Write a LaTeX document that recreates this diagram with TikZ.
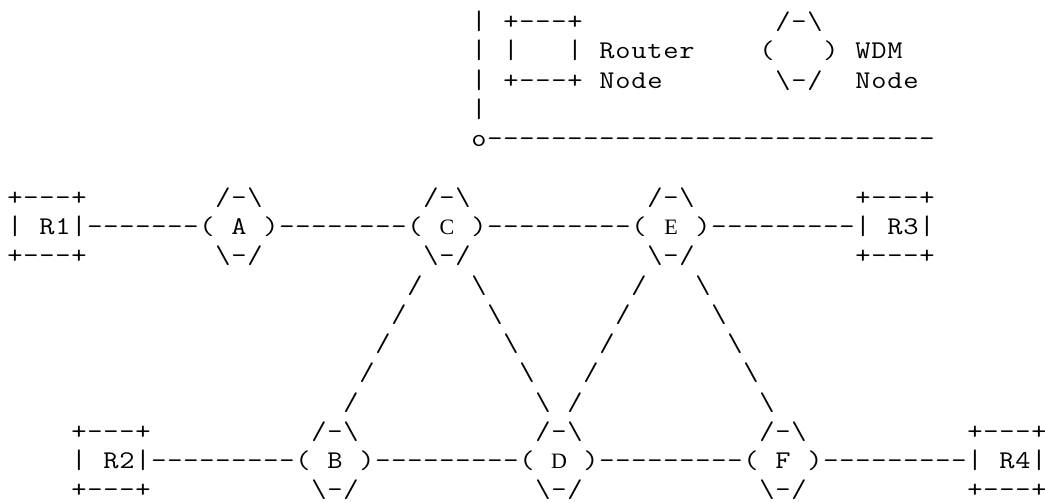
\documentclass[tikz,border=0pt]{standalone}
\usepackage{fontspec}
\usepackage{graphicx}
\newfontfamily\lserif{Liberation Serif}
\newcommand{\bs}{\textbackslash}
\newcommand{\vb}{\scalebox{1}[1.05]{|}}
% place every character in a fixed 16pt cell (monospaced grid)
\newcommand{\cells}[1]{\cellloop#1\relax}
\def\cellloop#1{\ifx\relax#1\else\makebox[16pt][c]{\scalebox{1.16}[1]{#1}}\expandafter\cellloop\fi}
\tikzset{
  asc/.style={anchor=base west, inner sep=0pt, outer sep=0pt,
    font=\ttfamily\fontsize{25.5pt}{29pt}\selectfont},
  ser/.style={anchor=base, inner sep=0pt, outer sep=0pt,
    font=\lserif\fontsize{22pt}{24pt}\selectfont},
}
\begin{document}
\begin{tikzpicture}
\fill[white] (0,0) rectangle (1045pt,-503pt);
\useasboundingbox (0,0) rectangle (1045pt,-503pt);
\begin{scope}[shift={(7pt,-29.75pt)}, x=16pt, y=-29.25pt]
% ---- legend ----
\node[asc] (lg0) at (29,0) {\cells{\vb}};
\node[asc] (lgRt) at (31,0) {\cells{+---+}};
\node[asc] (lgWt) at (48,0) {\cells{/-\bs}};
\node[asc] (lg1) at (29,1) {\cells{\vb}};
\node[asc] (lgRl) at (31,1) {\cells{\vb}};
\node[asc] (lgRr) at (35,1) {\cells{\vb}};
\node[asc] (lgRtxt) at (37,1) {\cells{Router}};
\node[asc] (lgWl) at (47,1) {\cells{(}};
\node[asc] (lgWr) at (51,1) {\cells{)}};
\node[asc] (lgWtxt) at (53,1) {\cells{WDM}};
\node[asc] (lg2) at (29,2) {\cells{\vb}};
\node[asc] (lgRb) at (31,2) {\cells{+---+}};
\node[asc] (lgRtxt2) at (37,2) {\cells{Node}};
\node[asc] (lgWb) at (48,2) {\cells{\bs-/}};
\node[asc] (lgWtxt2) at (53,2) {\cells{Node}};
\node[asc] (lg3) at (29,3) {\cells{\vb}};
\node[asc] (lgline) at (29,4) {\cells{o----------------------------}};
% ---- top row ----
\node[asc] (R1t) at (0,6) {\cells{+---+}};
\node[asc] (At) at (13,6) {\cells{/-\bs}};
\node[asc] (Ct) at (26,6) {\cells{/-\bs}};
\node[asc] (Et) at (40,6) {\cells{/-\bs}};
\node[asc] (R3t) at (53,6) {\cells{+---+}};
\node[asc] (R1l) at (0,7) {\cells{\vb}};
\node[asc] (R1) at (2,7) {\cells{R1\vb-------(}};
\node[asc] (A) at (14,7) {\cells{A}};
\node[asc] (AC) at (16,7) {\cells{)--------(}};
\node[ser] (C) at (27.5,7) {C};
\node[asc] (CE) at (29,7) {\cells{)---------(}};
\node[ser] (E) at (41.5,7) {E};
\node[asc] (ER3) at (43,7) {\cells{)---------\vb}};
\node[asc] (R3) at (55,7) {\cells{R3\vb}};
\node[asc] (R1b) at (0,8) {\cells{+---+}};
\node[asc] (Ab) at (13,8) {\cells{\bs-/}};
\node[asc] (Cb) at (26,8) {\cells{\bs-/}};
\node[asc] (Eb) at (40,8) {\cells{\bs-/}};
\node[asc] (R3b) at (53,8) {\cells{+---+}};
% ---- diagonals ----
\node[asc] (cb1) at (25,9) {\cells{/}};
\node[asc] (cd1) at (29,9) {\cells{\bs}};
\node[asc] (ed1) at (39,9) {\cells{/}};
\node[asc] (ef1) at (43,9) {\cells{\bs}};
\node[asc] (cb2) at (24,10) {\cells{/}};
\node[asc] (cd2) at (30,10) {\cells{\bs}};
\node[asc] (ed2) at (38,10) {\cells{/}};
\node[asc] (ef2) at (44,10) {\cells{\bs}};
\node[asc] (cb3) at (23,11) {\cells{/}};
\node[asc] (cd3) at (31,11) {\cells{\bs}};
\node[asc] (ed3) at (37,11) {\cells{/}};
\node[asc] (ef3) at (45,11) {\cells{\bs}};
\node[asc] (cb4) at (22,12) {\cells{/}};
\node[asc] (cd4) at (32,12) {\cells{\bs}};
\node[asc] (ed4) at (36,12) {\cells{/}};
\node[asc] (ef4) at (46,12) {\cells{\bs}};
\node[asc] (cb5) at (21,13) {\cells{/}};
\node[asc] (cd5) at (33,13) {\cells{\bs}};
\node[asc] (ed5) at (35,13) {\cells{/}};
\node[asc] (ef5) at (47,13) {\cells{\bs}};
% ---- bottom row ----
\node[asc] (R2t) at (4,14) {\cells{+---+}};
\node[asc] (Bt) at (19,14) {\cells{/-\bs}};
\node[asc] (Dt) at (33,14) {\cells{/-\bs}};
\node[asc] (Ft) at (47,14) {\cells{/-\bs}};
\node[asc] (R4t) at (60,14) {\cells{+---+}};
\node[asc] (R2l) at (4,15) {\cells{\vb}};
\node[asc] (R2) at (6,15) {\cells{R2\vb---------(}};
\node[asc] (B) at (20,15) {\cells{B}};
\node[asc] (BD) at (22,15) {\cells{)---------(}};
\node[ser] (D) at (34.5,15) {D};
\node[asc] (DF) at (36,15) {\cells{)---------(}};
\node[asc] (F) at (48,15) {\cells{F}};
\node[asc] (FR4) at (50,15) {\cells{)---------\vb}};
\node[asc] (R4) at (62,15) {\cells{R4\vb}};
\node[asc] (R2b) at (4,16) {\cells{+---+}};
\node[asc] (Bb) at (19,16) {\cells{\bs-/}};
\node[asc] (Db) at (33,16) {\cells{\bs-/}};
\node[asc] (Fb) at (47,16) {\cells{\bs-/}};
\node[asc] (R4b) at (60,16) {\cells{+---+}};
\end{scope}
\end{tikzpicture}
\end{document}
